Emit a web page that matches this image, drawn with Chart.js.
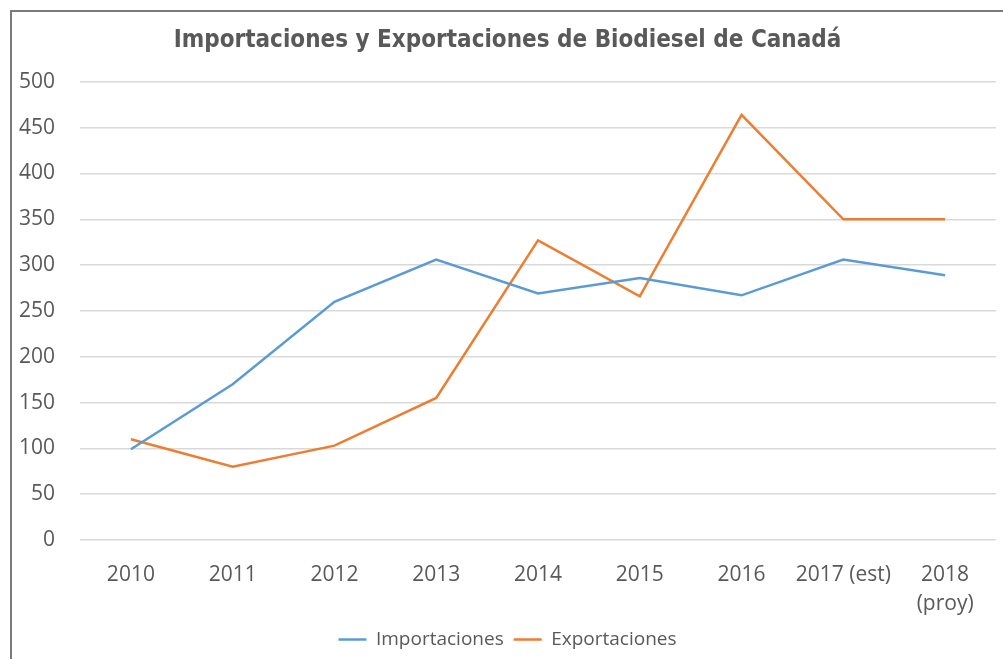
<!DOCTYPE html>
<html>
<head>
<meta charset="utf-8">
<script src="https://cdn.jsdelivr.net/npm/chart.js@4/dist/chart.umd.min.js"></script>
<style>
  body { margin: 0; background: #fff; }
  #frame {
    position: absolute; left: 10px; top: 10px;
    width: 993px; height: 649px;
    border-left: 2px solid #7a7a7a; border-top: 2px solid #7a7a7a;
  }
</style>
</head>
<body>
<div id="frame"><canvas id="chart" width="991" height="647"></canvas></div>
<script>
var years = ["2010", "2011", "2012", "2013", "2014", "2015", "2016", "2017 (est)", ["2018", "(proy)"]];
var importaciones = [99, 170, 260, 306, 269, 286, 267, 306, 289];
var exportaciones = [110, 80, 103, 155, 327, 266, 464, 350, 350];

var textColor = "#595959";
var tickFont = { family: "'Open Sans'", size: 21, lineHeight: 1.4 };

var ctx = document.getElementById("chart").getContext("2d");
var chart = new Chart(ctx, {
  type: "line",
  data: {
    labels: years,
    datasets: [{
      label: "Importaciones",
      data: importaciones,
      borderColor: "#5b9bd5",
      backgroundColor: "#5b9bd5",
      borderWidth: 2.5,
      pointRadius: 0,
      tension: 0
    }, {
      label: "Exportaciones",
      data: exportaciones,
      borderColor: "#ed7d31",
      backgroundColor: "#ed7d31",
      borderWidth: 2.5,
      pointRadius: 0,
      tension: 0
    }]
  },
  options: {
    responsive: false,
    animation: false,
    layout: { padding: { left: 7, right: 7, top: 8, bottom: 0 } },
    plugins: {
      title: {
        display: true,
        text: "Importaciones y Exportaciones de Biodiesel de Canadá",
        color: textColor,
        font: { family: "'DejaVu Sans Condensed'", size: 24, weight: "bold" },
        padding: { top: 6, bottom: 27 }
      },
      legend: {
        position: "bottom",
        labels: {
          color: textColor,
          font: { family: "'Open Sans'", size: 19 },
          usePointStyle: true,
          pointStyle: "line",
          pointStyleWidth: 28,
          padding: 10
        }
      },
      tooltip: { enabled: false }
    },
    scales: {
      x: {
        offset: true,
        grid: { display: false, drawTicks: false },
        border: { display: false },
        ticks: { color: textColor, font: tickFont, padding: 20, maxRotation: 0 },
        afterFit: function (scale) { scale.height = 80; }
      },
      y: {
        min: 0,
        max: 500,
        grid: { color: "#d9d9d9", lineWidth: 1.5, drawTicks: false },
        border: { display: false },
        ticks: { stepSize: 50, color: textColor, font: tickFont, padding: 25 },
        afterFit: function (scale) { scale.width = 61; }
      }
    }
  }
});
</script>
</body>
</html>
